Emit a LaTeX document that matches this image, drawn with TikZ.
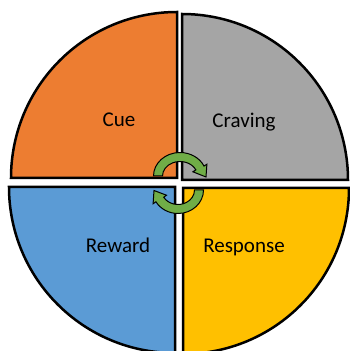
\documentclass[tikz,border=0pt]{standalone}
\usepackage{fontspec}
\setmainfont{Carlito}
\definecolor{cueorange}{HTML}{ED7D31}
\definecolor{cravegray}{HTML}{A5A5A5}
\definecolor{rewardblue}{HTML}{5B9BD5}
\definecolor{responsegold}{HTML}{FFC000}
\definecolor{loopgreen}{HTML}{70AD47}

\begin{document}
\begin{tikzpicture}[
    x=1pt,
    y=1pt,
    quarter/.style={
        draw=black,
        line width=2.5pt,
        line join=miter
    },
    phase/.style={
        font=\fontsize{21}{25}\selectfont,
        anchor=base,
        inner sep=0pt
    },
    turn/.style={
        fill=loopgreen,
        draw=black,
        line width=1pt,
        line join=miter
    }
]

    \useasboundingbox (0,0) rectangle (350,351);
    \clip (0,0) rectangle (350,351);

    % === Quadrants ===
    \draw[quarter, fill=cueorange] (177,173) -- ++(-166,0)
        arc[start angle=180, end angle=90, radius=166] -- cycle;
    \draw[quarter, fill=cravegray] (182,171) -- ++(0,166)
        arc[start angle=90, end angle=0, radius=166] -- cycle;
    \draw[quarter, fill=rewardblue] (175,164) -- ++(0,-166)
        arc[start angle=270, end angle=180, radius=166] -- cycle;
    \draw[quarter, fill=responsegold] (183,163) -- ++(166,0)
        arc[start angle=0, end angle=-90, radius=166] -- cycle;

    % === Labels ===
    \node[phase] (cue) at (119,224) {Cue};
    \node[phase] (craving) at (244,223) {Craving};
    \node[phase] (reward) at (118,98) {Reward};
    \node[phase] (response) at (244,98) {Response};

    % === Cycle arrows ===
    \draw[turn, shift={(180,175)}] (180:26.5 and 23.5)
        arc[start angle=180, end angle=25, x radius=26.5, y radius=23.5]
        -- (26.9,11.8) -- (26,-1) -- (12.9,4.2) -- (25:17.5 and 14.5)
        arc[start angle=25, end angle=180, x radius=17.5, y radius=14.5]
        -- cycle;
    \draw[turn, shift={(178,161)}] (0:25.5 and 23.5)
        arc[start angle=0, end angle=-150, x radius=25.5, y radius=23.5]
        -- (-24.9,-13.8) -- (-24,-0.5) -- (-11.5,-5.2) -- (-150:16.5 and 14.5)
        arc[start angle=-150, end angle=0, x radius=16.5, y radius=14.5]
        -- cycle;

\end{tikzpicture}
\end{document}
